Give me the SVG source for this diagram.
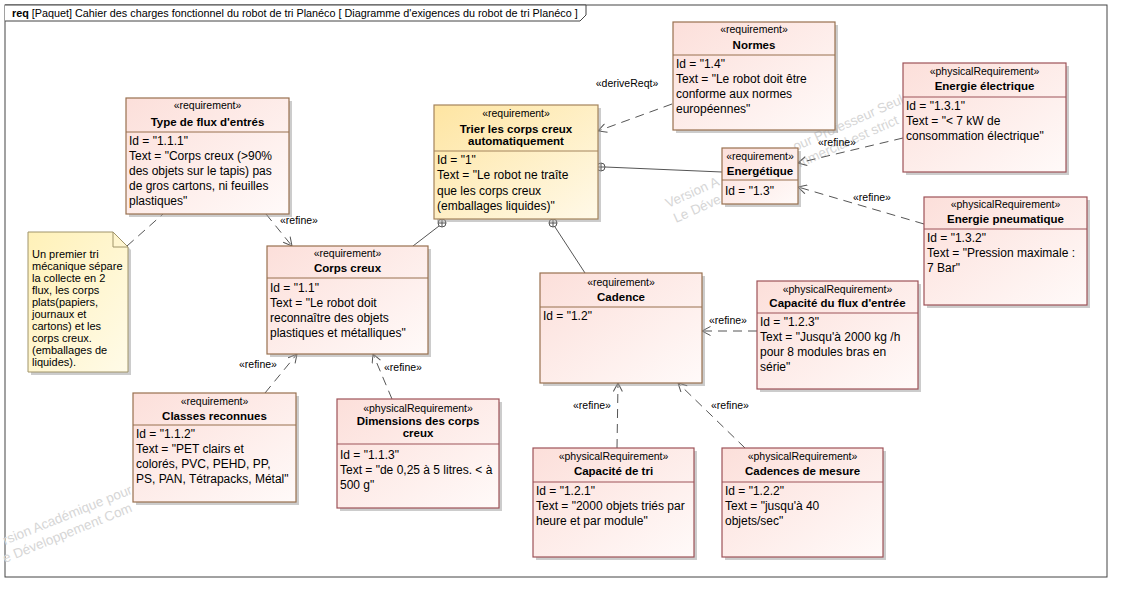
<svg xmlns="http://www.w3.org/2000/svg" width="1121" height="592" viewBox="0 0 1121 592">
<style>
.frame{fill:#fff;stroke:#444;stroke-width:1}
.sh{fill:#9a9a9a;opacity:.5}
.req{fill:url(#gReq);stroke:#98704f;stroke-width:1.2}
.phy{fill:url(#gReq);stroke:#9d5258;stroke-width:1.2}
.top{fill:url(#gTop);stroke:#a4845c;stroke-width:1.2}
.note{fill:url(#gNote);stroke:#a0946a;stroke-width:1}
.div{stroke-width:1}
.st{font-family:"Liberation Sans",Arial,sans-serif;font-size:10.5px;fill:#000;text-anchor:middle}
.nm{font-family:"Liberation Sans",Arial,sans-serif;font-size:11.5px;font-weight:bold;fill:#000;text-anchor:middle}
.bd{font-family:"Liberation Sans",Arial,sans-serif;font-size:12px;fill:#000}
.nt{font-family:"Liberation Sans",Arial,sans-serif;font-size:11px;fill:#000}
.lb{font-family:"Liberation Sans",Arial,sans-serif;font-size:10.5px;fill:#000;text-anchor:middle}
.wm{font-family:"Liberation Sans",Arial,sans-serif;font-size:13.5px;fill:#d6d6d6}
.ln{fill:none;stroke:#555;stroke-width:1}
.ds{fill:none;stroke:#555;stroke-width:1;stroke-dasharray:9,6}
.ttl{font-family:"Liberation Sans",Arial,sans-serif;font-size:10.8px;fill:#000}
</style>
<defs>
<linearGradient id="gReq" x1="0" y1="0" x2="1" y2="1"><stop offset="0" stop-color="#fcdfda"/><stop offset="1" stop-color="#fffaf9"/></linearGradient>
<linearGradient id="gTop" x1="0" y1="0" x2="1" y2="1"><stop offset="0" stop-color="#fee5a2"/><stop offset="1" stop-color="#fff9e8"/></linearGradient>
<linearGradient id="gNote" x1="0" y1="0" x2="1" y2="1"><stop offset="0" stop-color="#fff1b8"/><stop offset="1" stop-color="#fffbe8"/></linearGradient>
<marker id="arr" viewBox="0 0 10 10" refX="9.5" refY="5" markerWidth="10" markerHeight="10" markerUnits="userSpaceOnUse" orient="auto"><path d="M1,0.5 L9.5,5 L1,9.5" fill="none" stroke="#555" stroke-width="1"/></marker>
</defs>
<rect x="0" y="0" width="1121" height="592" fill="#fff"/>
<g id="frame">
<rect class="frame" x="5" y="5" width="1102" height="572"/>
<path d="M5,5 L586,5 L586,15 L580,21 L5,21" fill="#fff" stroke="#444" stroke-width="1"/>
<text class="ttl" x="12" y="17"><tspan font-weight="bold">req</tspan> [Paquet] Cahier des charges fonctionnel du robot de tri Planéco [ Diagramme d'exigences du robot de tri Planéco ]</text>
</g>
<g id="watermark">
<text class="wm" transform="translate(5,545) rotate(-22)">rsion Académique pour</text>
<text class="wm" transform="translate(5,563) rotate(-22)">e Développement Com</text>
<text class="wm" transform="translate(668,208) rotate(-24)">Version A</text>
<text class="wm" transform="translate(795.5,151.3) rotate(-24)">our Professeur Seul</text>
<text class="wm" transform="translate(676,223) rotate(-24)">Le Déve</text>
<text class="wm" transform="translate(800,167.7) rotate(-24)">mmercial est strict</text>
</g>
<g id="connectors">
<line class="ln" x1="605" y1="167" x2="722" y2="172"/>
<circle cx="601" cy="167" r="4" fill="#fff" stroke="#555"/><path d="M597,167 H605 M601,163 V171" class="ln"/>
<line class="ln" x1="439" y1="226" x2="413" y2="246"/>
<circle cx="442" cy="223" r="4" fill="#fff" stroke="#555"/><path d="M438,223 H446 M442,219 V227" class="ln"/>
<line class="ln" x1="555" y1="227" x2="585" y2="273"/>
<circle cx="553" cy="223" r="4" fill="#fff" stroke="#555"/><path d="M549,223 H557 M553,219 V227" class="ln"/>
<line class="ds" x1="672" y1="104" x2="598" y2="131" marker-end="url(#arr)"/>
<text class="lb" x="627" y="87">«deriveReqt»</text>
<line class="ds" x1="903" y1="138" x2="798" y2="163" marker-end="url(#arr)"/>
<text class="lb" x="837" y="146">«refine»</text>
<line class="ds" x1="924" y1="224" x2="798" y2="187" marker-end="url(#arr)"/>
<text class="lb" x="872" y="201">«refine»</text>
<line class="ds" x1="266" y1="214" x2="292" y2="246" marker-end="url(#arr)"/>
<text class="lb" x="299" y="224">«refine»</text>
<line class="ds" x1="127" y1="246" x2="163" y2="214"/>
<line class="ds" x1="265" y1="393" x2="297" y2="354" marker-end="url(#arr)"/>
<text class="lb" x="258" y="368">«refine»</text>
<line class="ds" x1="392" y1="399" x2="373" y2="354" marker-end="url(#arr)"/>
<text class="lb" x="403" y="371">«refine»</text>
<line class="ds" x1="757" y1="331" x2="702" y2="331" marker-end="url(#arr)"/>
<text class="lb" x="728" y="324">«refine»</text>
<line class="ds" x1="617" y1="448" x2="618" y2="383" marker-end="url(#arr)"/>
<text class="lb" x="592" y="409">«refine»</text>
<line class="ds" x1="745" y1="448" x2="678" y2="383" marker-end="url(#arr)"/>
<text class="lb" x="730" y="409">«refine»</text>
</g>
<g id="n-flux">
<rect class="sh" x="129" y="101" width="163" height="116"/>
<rect class="req" x="126" y="98" width="163" height="116"/>
<line class="div" stroke="#98704f" x1="126" y1="132" x2="289" y2="132"/>
<text class="st" x="207.5" y="109">«requirement»</text>
<text class="nm" x="207.5" y="126">Type de flux d'entrés</text>
<text class="bd" x="129" y="145">Id = "1.1.1"</text>
<text class="bd" x="129" y="160">Text = "Corps creux (&gt;90%</text>
<text class="bd" x="129" y="175">des objets sur le tapis) pas</text>
<text class="bd" x="129" y="190">de gros cartons, ni feuilles</text>
<text class="bd" x="129" y="205">plastiques"</text>
</g>
<g id="n-trier">
<rect class="sh" x="437" y="108" width="164" height="114"/>
<rect class="top" x="434" y="105" width="164" height="114"/>
<line class="div" stroke="#a4845c" x1="434" y1="151" x2="598" y2="151"/>
<text class="st" x="516" y="117">«requirement»</text>
<text class="nm" x="516" y="133">Trier les corps creux</text>
<text class="nm" x="516" y="145">automatiquement</text>
<text class="bd" x="437" y="164">Id = "1"</text>
<text class="bd" x="437" y="179">Text = "Le robot ne traîte</text>
<text class="bd" x="437" y="194.5">que les corps creux</text>
<text class="bd" x="437" y="210">(emballages liquides)"</text>
</g>
<g id="n-normes">
<rect class="sh" x="676" y="25" width="162" height="108"/>
<rect class="req" x="673" y="22" width="162" height="108"/>
<line class="div" stroke="#98704f" x1="673" y1="55" x2="835" y2="55"/>
<text class="st" x="754" y="33">«requirement»</text>
<text class="nm" x="754" y="49">Normes</text>
<text class="bd" x="676" y="68">Id = "1.4"</text>
<text class="bd" x="676" y="83">Text = "Le robot doit être</text>
<text class="bd" x="676" y="98">conforme aux normes</text>
<text class="bd" x="676" y="113">européennes"</text>
</g>
<g id="n-energetique">
<rect class="sh" x="725" y="151" width="76" height="56"/>
<rect class="req" x="722" y="148" width="76" height="56"/>
<line class="div" stroke="#98704f" x1="722" y1="180" x2="798" y2="180"/>
<text class="st" x="760" y="160">«requirement»</text>
<text class="nm" x="760" y="175">Energétique</text>
<text class="bd" x="725" y="195">Id = "1.3"</text>
</g>
<g id="n-elec">
<rect class="sh" x="906" y="66" width="163" height="109"/>
<rect class="phy" x="903" y="63" width="163" height="109"/>
<line class="div" stroke="#9d5258" x1="903" y1="97" x2="1066" y2="97"/>
<text class="st" x="984.5" y="75">«physicalRequirement»</text>
<text class="nm" x="984.5" y="90">Energie électrique</text>
<text class="bd" x="906" y="110">Id = "1.3.1"</text>
<text class="bd" x="906" y="125">Text = "&lt; 7 kW de</text>
<text class="bd" x="906" y="140">consommation électrique"</text>
</g>
<g id="n-pneu">
<rect class="sh" x="927" y="200" width="163" height="108"/>
<rect class="phy" x="924" y="197" width="163" height="108"/>
<line class="div" stroke="#9d5258" x1="924" y1="229" x2="1087" y2="229"/>
<text class="st" x="1005.5" y="208">«physicalRequirement»</text>
<text class="nm" x="1005.5" y="223">Energie pneumatique</text>
<text class="bd" x="927" y="242">Id = "1.3.2"</text>
<text class="bd" x="927" y="257">Text = "Pression maximale :</text>
<text class="bd" x="927" y="272">7 Bar"</text>
</g>
<g id="n-corps">
<rect class="sh" x="270" y="249" width="161" height="108"/>
<rect class="req" x="267" y="246" width="161" height="108"/>
<line class="div" stroke="#98704f" x1="267" y1="278" x2="428" y2="278"/>
<text class="st" x="347.5" y="257">«requirement»</text>
<text class="nm" x="347.5" y="272">Corps creux</text>
<text class="bd" x="270" y="292">Id = "1.1"</text>
<text class="bd" x="270" y="307">Text = "Le robot doit</text>
<text class="bd" x="270" y="322">reconnaître des objets</text>
<text class="bd" x="270" y="337">plastiques et métalliques"</text>
</g>
<g id="n-cadence">
<rect class="sh" x="543" y="276" width="162" height="110"/>
<rect class="req" x="540" y="273" width="162" height="110"/>
<line class="div" stroke="#98704f" x1="540" y1="307" x2="702" y2="307"/>
<text class="st" x="621" y="286">«requirement»</text>
<text class="nm" x="621" y="301">Cadence</text>
<text class="bd" x="543" y="320">Id = "1.2"</text>
</g>
<g id="n-fluxentree">
<rect class="sh" x="760" y="284" width="161" height="108"/>
<rect class="phy" x="757" y="281" width="161" height="108"/>
<line class="div" stroke="#9d5258" x1="757" y1="313" x2="918" y2="313"/>
<text class="st" x="837.5" y="293">«physicalRequirement»</text>
<text class="nm" x="837.5" y="307">Capacité du flux d'entrée</text>
<text class="bd" x="760" y="326">Id = "1.2.3"</text>
<text class="bd" x="760" y="341">Text = "Jusqu'à 2000 kg /h</text>
<text class="bd" x="760" y="356">pour 8 modules bras en</text>
<text class="bd" x="760" y="371">série"</text>
</g>
<g id="n-classes">
<rect class="sh" x="136" y="396" width="163" height="109"/>
<rect class="req" x="133" y="393" width="163" height="109"/>
<line class="div" stroke="#98704f" x1="133" y1="425" x2="296" y2="425"/>
<text class="st" x="214.5" y="405">«requirement»</text>
<text class="nm" x="214.5" y="420">Classes reconnues</text>
<text class="bd" x="136" y="438">Id = "1.1.2"</text>
<text class="bd" x="136" y="453">Text = "PET clairs et</text>
<text class="bd" x="136" y="468">colorés, PVC, PEHD, PP,</text>
<text class="bd" x="136" y="483">PS, PAN, Tétrapacks, Métal"</text>
</g>
<g id="n-dimensions">
<rect class="sh" x="340" y="402" width="162" height="109"/>
<rect class="phy" x="337" y="399" width="162" height="109"/>
<line class="div" stroke="#9d5258" x1="337" y1="444" x2="499" y2="444"/>
<text class="st" x="418" y="412">«physicalRequirement»</text>
<text class="nm" x="418" y="425">Dimensions des corps</text>
<text class="nm" x="418" y="437">creux</text>
<text class="bd" x="340" y="459">Id = "1.1.3"</text>
<text class="bd" x="340" y="474">Text = "de 0,25 à 5 litres. &lt; à</text>
<text class="bd" x="340" y="489">500 g"</text>
</g>
<g id="n-captri">
<rect class="sh" x="536" y="451" width="161" height="109"/>
<rect class="phy" x="533" y="448" width="161" height="109"/>
<line class="div" stroke="#9d5258" x1="533" y1="482" x2="694" y2="482"/>
<text class="st" x="613.5" y="460">«physicalRequirement»</text>
<text class="nm" x="613.5" y="475">Capacité de tri</text>
<text class="bd" x="536" y="495">Id = "1.2.1"</text>
<text class="bd" x="536" y="510">Text = "2000 objets triés par</text>
<text class="bd" x="536" y="525">heure et par module"</text>
</g>
<g id="n-cadmes">
<rect class="sh" x="725" y="451" width="161" height="109"/>
<rect class="phy" x="722" y="448" width="161" height="109"/>
<line class="div" stroke="#9d5258" x1="722" y1="482" x2="883" y2="482"/>
<text class="st" x="802.5" y="460">«physicalRequirement»</text>
<text class="nm" x="802.5" y="475">Cadences de mesure</text>
<text class="bd" x="725" y="495">Id = "1.2.2"</text>
<text class="bd" x="725" y="510">Text = "jusqu'à 40</text>
<text class="bd" x="725" y="525">objets/sec"</text>
</g>
<g id="n-note">
<path class="sh" d="M31,235 H116 L131,250 V375 H31 Z"/>
<path class="note" d="M28,232 H113 L128,247 V372 H28 Z"/>
<path d="M113,232 V247 H128" fill="none" stroke="#a0946a"/>
<text class="nt" x="32" y="258">Un premier tri</text>
<text class="nt" x="32" y="270">mécanique sépare</text>
<text class="nt" x="32" y="282">la collecte en 2</text>
<text class="nt" x="32" y="294">flux, les corps</text>
<text class="nt" x="32" y="306">plats(papiers,</text>
<text class="nt" x="32" y="318">journaux et</text>
<text class="nt" x="32" y="330">cartons) et les</text>
<text class="nt" x="32" y="342">corps creux.</text>
<text class="nt" x="32" y="354">(emballages de</text>
<text class="nt" x="32" y="366">liquides).</text>
</g>
</svg>
